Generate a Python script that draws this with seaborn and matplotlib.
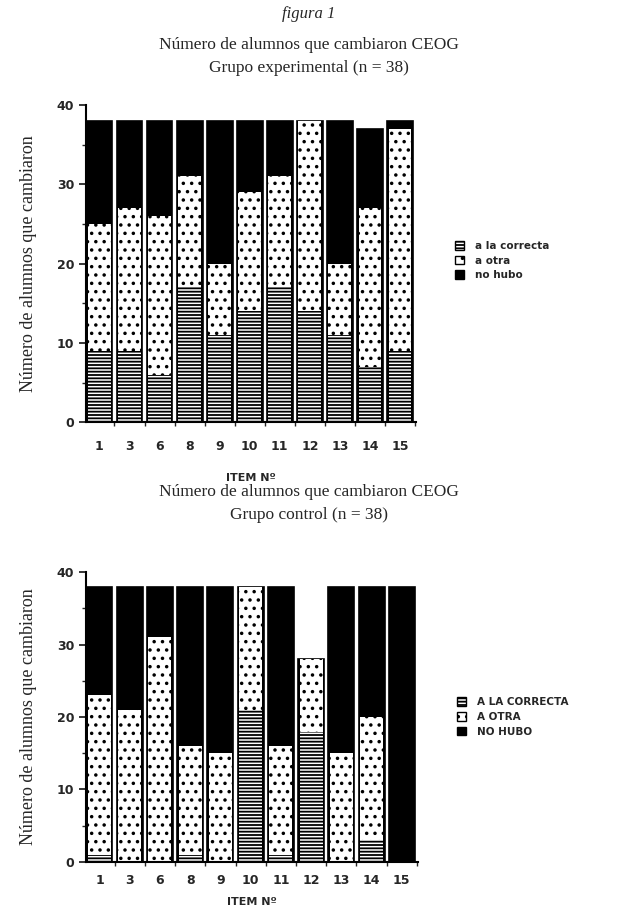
import seaborn as sns
import pandas as pd
import matplotlib.pyplot as plt
from matplotlib.patches import Patch
from matplotlib.ticker import MultipleLocator, FixedLocator

ITEMS = ['1', '3', '6', '8', '9', '10', '11', '12', '13', '14', '15']

# grupo experimental
exp_correcta = [9, 9, 6, 17, 11, 14, 17, 14, 11, 7, 9]
exp_otra = [16, 18, 20, 14, 9, 15, 14, 24, 9, 20, 28]
exp_nohubo = [13, 11, 12, 7, 18, 9, 7, 0, 18, 10, 1]

# grupo control
ctl_correcta = [1, 0, 0, 1, 0, 21, 1, 18, 0, 3, 0]
ctl_otra = [22, 21, 31, 15, 15, 17, 15, 10, 15, 17, 0]
ctl_nohubo = [15, 17, 7, 22, 23, 0, 22, 0, 23, 18, 38]

sns.set_style('white')
plt.rcParams['hatch.linewidth'] = 1.3
plt.rcParams['font.family'] = ['Liberation Serif', 'DejaVu Serif']

fig = plt.figure(figsize=(6.18, 9.14), dpi=100)

W = 0.86


def panel(ax, correcta, otra, nohubo, labels, xpad, lpad, leg_y):
    df = pd.DataFrame({'item': ITEMS, 'correcta': correcta, 'otra': otra, 'nohubo': nohubo})
    df['c1'] = df['correcta']
    df['c2'] = df['correcta'] + df['otra']
    df['c3'] = df['c2'] + df['nohubo']
    sns.barplot(data=df, x='item', y='c3', order=ITEMS, color='black', saturation=1,
                width=W, edgecolor='black', linewidth=1.2, ax=ax)
    sns.barplot(data=df, x='item', y='c2', order=ITEMS, color='white', saturation=1,
                width=W - 0.1, edgecolor='black', linewidth=0, hatch='..', ax=ax)
    sns.barplot(data=df, x='item', y='c1', order=ITEMS, color='white', saturation=1,
                width=W - 0.1, edgecolor='black', linewidth=0, hatch='-----', ax=ax)
    ax.set_ylim(0, 40)
    ax.set_xlim(-W / 2 - 0.02, len(ITEMS) - 1 + W / 2 + 0.1)
    ax.yaxis.set_major_locator(MultipleLocator(10))
    ax.yaxis.set_minor_locator(MultipleLocator(5))
    ax.xaxis.set_minor_locator(FixedLocator([i + 0.5 for i in range(-1, len(ITEMS))]))
    ax.tick_params(axis='y', which='major', length=5, width=1.3, direction='out', left=True,
                   labelsize=9)
    ax.tick_params(axis='y', which='minor', length=3, width=1, direction='out', left=True)
    ax.tick_params(axis='x', which='major', length=0, labelsize=9, pad=xpad)
    ax.tick_params(axis='x', which='minor', length=3, width=1, direction='out', bottom=True)
    for lab in ax.get_xticklabels() + ax.get_yticklabels():
        lab.set_fontfamily('DejaVu Sans')
        lab.set_fontweight('bold')
    for s in ['top', 'right']:
        ax.spines[s].set_visible(False)
    for s in ['left', 'bottom']:
        ax.spines[s].set_linewidth(1.5)
        ax.spines[s].set_color('black')
    ax.set_xlabel('ITEM Nº', fontfamily='DejaVu Sans', fontweight='bold', fontsize=8, labelpad=lpad)
    ax.set_ylabel('Número de alumnos que cambiaron', fontsize=13, labelpad=14)
    handles = [
        Patch(facecolor='white', edgecolor='black', hatch='-----', label=labels[0]),
        Patch(facecolor='white', edgecolor='black', hatch='..', label=labels[1]),
        Patch(facecolor='black', edgecolor='black', label=labels[2]),
    ]
    ax.legend(handles=handles, loc='center left', bbox_to_anchor=(1.09, leg_y), frameon=False,
              prop={'family': 'DejaVu Sans', 'weight': 'bold', 'size': 7.5},
              handlelength=0.9, handleheight=0.9, handletextpad=1.0, labelspacing=0.45)


ax1 = fig.add_axes([0.139, 0.538, 0.534, 0.347])
panel(ax1, exp_correcta, exp_otra, exp_nohubo, ['a la correcta', 'a otra', 'no hubo'], 13, 14, 0.51)

ax2 = fig.add_axes([0.139, 0.057, 0.537, 0.317])
panel(ax2, ctl_correcta, ctl_otra, ctl_nohubo, ['A LA CORRECTA', 'A OTRA', 'NO HUBO'], 9, 7, 0.50)

fig.text(0.5, 0.985, 'figura 1', ha='center', va='center', fontsize=12, style='italic')
fig.text(0.5, 0.951, 'Número de alumnos que cambiaron CEOG', ha='center', va='center', fontsize=12.5)
fig.text(0.5, 0.926, 'Grupo experimental (n = 38)', ha='center', va='center', fontsize=12.5)
fig.text(0.5, 0.462, 'Número de alumnos que cambiaron CEOG', ha='center', va='center', fontsize=12.5)
fig.text(0.5, 0.436, 'Grupo control (n = 38)', ha='center', va='center', fontsize=12.5)

fig.savefig('out.png', dpi=100)
